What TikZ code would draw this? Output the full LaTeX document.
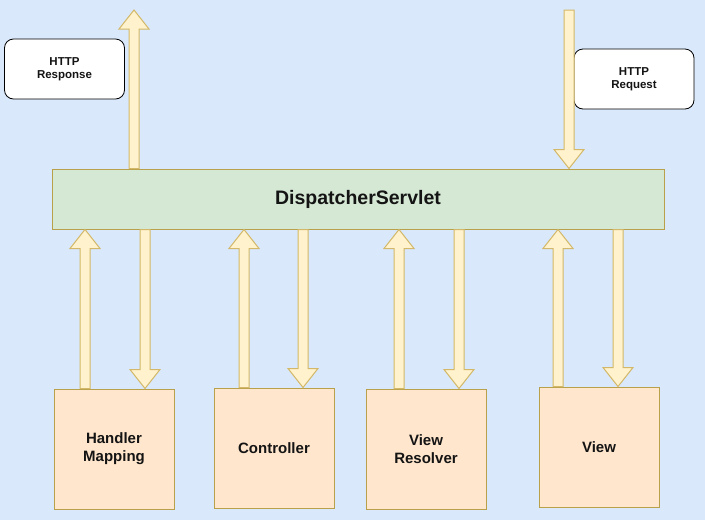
\documentclass[tikz,border=0pt]{standalone}
\usepackage{fontspec}
\setmainfont{Liberation Sans}
\usetikzlibrary{calc}
\definecolor{bgblue}{HTML}{DAE8FC}
\definecolor{dsgreen}{HTML}{D5E8D4}
\definecolor{boxorange}{HTML}{FFE6CC}
\definecolor{arrfill}{HTML}{FFF2CC}
\definecolor{arrline}{HTML}{D2B868}
\definecolor{olive}{HTML}{B9A04A}
\definecolor{txt}{HTML}{141414}
\tikzset{
  barrow/.style={fill=arrfill, draw=arrline, line width=1pt, line join=miter},
  compbox/.style={draw=olive, fill=boxorange, line width=1pt, minimum width=120pt, minimum height=120pt, inner sep=0pt, align=center, text=txt, font=\bfseries\fontsize{15}{18}\selectfont},
  dsbox/.style={draw=olive, fill=dsgreen, line width=1pt, minimum width=612pt, minimum height=60pt, inner sep=0pt, text=txt, font=\bfseries\fontsize{19.5}{22}\selectfont},
  httpbox/.style={draw=black, fill=white, line width=0.8pt, rounded corners=9pt, minimum width=120pt, minimum height=60pt, inner sep=0pt, align=center, text=txt, font=\bfseries\fontsize{11.5}{13}\selectfont}
}
% up arrow: #1 base point, #2 tip point (same x)
\newcommand\uparr[2]{%
  \path[barrow] let \p1=(#1), \p2=(#2) in
    (\x1-5pt,\y1) -- (\x1-5pt,\y2-19pt) -- (\x1-15pt,\y2-19pt) -- (\x1,\y2)
    -- (\x1+15pt,\y2-19pt) -- (\x1+5pt,\y2-19pt) -- (\x1+5pt,\y1) -- cycle;}
% down arrow: #1 base point, #2 tip point (same x)
\newcommand\downarr[2]{%
  \path[barrow] let \p1=(#1), \p2=(#2) in
    (\x1-5pt,\y1) -- (\x1-5pt,\y2+19pt) -- (\x1-15pt,\y2+19pt) -- (\x1,\y2)
    -- (\x1+15pt,\y2+19pt) -- (\x1+5pt,\y2+19pt) -- (\x1+5pt,\y1) -- cycle;}
\begin{document}
\begin{tikzpicture}[x=1pt,y=-1pt]
\fill[bgblue] (0,0) rectangle (705,520);
\useasboundingbox (0,0) rectangle (705,520);

\node[httpbox] (resp) at (64.5,69) {HTTP\\Response};
\node[httpbox] (req) at (634,79) {HTTP\\Request};
\node[dsbox] (ds) at (358,199) {DispatcherServlet};

\node[compbox] (hm) at (114,449) {Handler\\Mapping};
\node[compbox] (ctl) at (274,448) {Controller};
\node[compbox] (vr) at (426,449) {View\\Resolver};
\node[compbox] (vw) at (599,447) {View};

\coordinate (resptop) at (134,10);
\coordinate (reqtop) at (569,10);
\coordinate (a1) at (85,0);
\coordinate (b1) at (145,0);
\coordinate (a2) at (244,0);
\coordinate (b2) at (303,0);
\coordinate (a3) at (399,0);
\coordinate (b3) at (459,0);
\coordinate (a4) at (558,0);
\coordinate (b4) at (618,0);

\uparr{ds.north -| resptop}{resptop}
\downarr{reqtop}{ds.north -| reqtop}

\uparr{hm.north -| a1}{ds.south -| a1}
\downarr{ds.south -| b1}{hm.north -| b1}
\uparr{ctl.north -| a2}{ds.south -| a2}
\downarr{ds.south -| b2}{ctl.north -| b2}
\uparr{vr.north -| a3}{ds.south -| a3}
\downarr{ds.south -| b3}{vr.north -| b3}
\uparr{vw.north -| a4}{ds.south -| a4}
\downarr{ds.south -| b4}{vw.north -| b4}
\end{tikzpicture}
\end{document}
